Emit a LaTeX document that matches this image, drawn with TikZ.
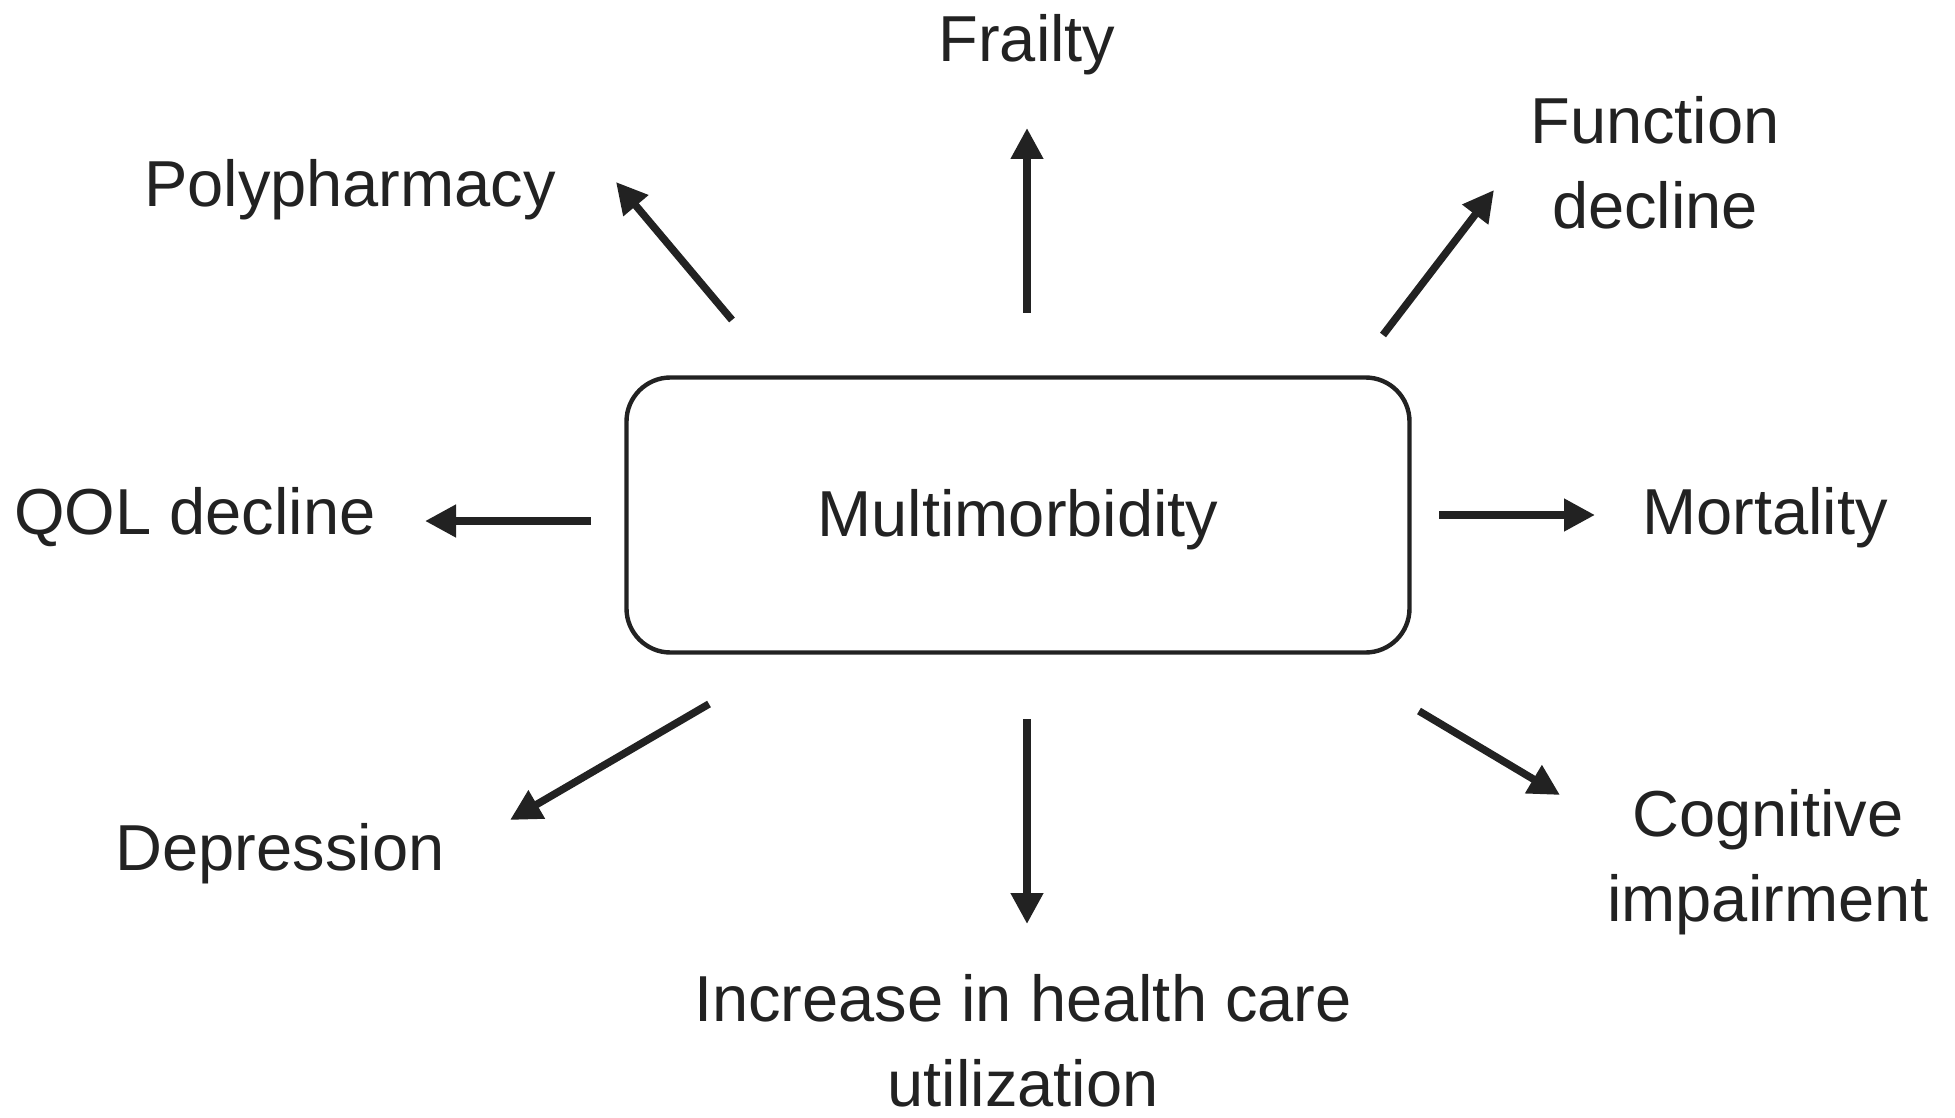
\documentclass[tikz,border=0pt]{standalone}
\usepackage{fontspec}
\setmainfont{Liberation Sans}
\usetikzlibrary{arrows.meta}
\definecolor{ink}{RGB}{34,34,34}
\begin{document}
\begin{tikzpicture}[x=0.5pt,y=-0.5pt,
  lbl/.style={font=\fontsize{32.5}{42.5}\selectfont, text=ink, inner sep=0pt, anchor=base, align=center},
  arr/.style={draw=ink, line width=3.75pt, -{Triangle[length=15.5pt,width=15.5pt]}},
  box/.style={draw=ink, line width=2.2pt, rounded corners=22pt, minimum width=391.5pt, minimum height=137.5pt, inner sep=0pt, text height=24pt, text depth=3pt, font=\fontsize{32.5}{42.5}\selectfont, text=ink}]
\useasboundingbox (0,0) rectangle (1955,1118);
\node[box] (mm) at (1018,515) {Multimorbidity};

\node[lbl] (frail) at (1027,62) {Frailty};
\node[lbl] (poly) at (350,207) {Polypharmacy};
\node[lbl] (func) at (1655,229) {Function\\decline};
\node[lbl] (qol) at (195,534) {QOL decline};
\node[lbl] (mort) at (1765,534) {Mortality};
\node[lbl] (dep) at (280,870) {Depression};
\node[lbl] (cog) at (1768,921) {Cognitive\\impairment};
\node[lbl] (hcu) at (1023,1106) {Increase in health care\\utilization};

\coordinate (s1) at (732,320); \coordinate (e1) at (616,182);
\coordinate (s2) at (1027,313); \coordinate (e2) at (1027,128);
\coordinate (s3) at (1383,335); \coordinate (e3) at (1494,190);
\coordinate (s4) at (591,521); \coordinate (e4) at (425,521);
\coordinate (s5) at (1439,515); \coordinate (e5) at (1595,515);
\coordinate (s6) at (709,704); \coordinate (e6) at (510,820);
\coordinate (s7) at (1027,719); \coordinate (e7) at (1027,924);
\coordinate (s8) at (1419,711); \coordinate (e8) at (1560,795);

\draw[arr] (s1) -- (e1);
\draw[arr] (s2) -- (e2);
\draw[arr] (s3) -- (e3);
\draw[arr] (s4) -- (e4);
\draw[arr] (s5) -- (e5);
\draw[arr] (s6) -- (e6);
\draw[arr] (s7) -- (e7);
\draw[arr] (s8) -- (e8);
\end{tikzpicture}
\end{document}
